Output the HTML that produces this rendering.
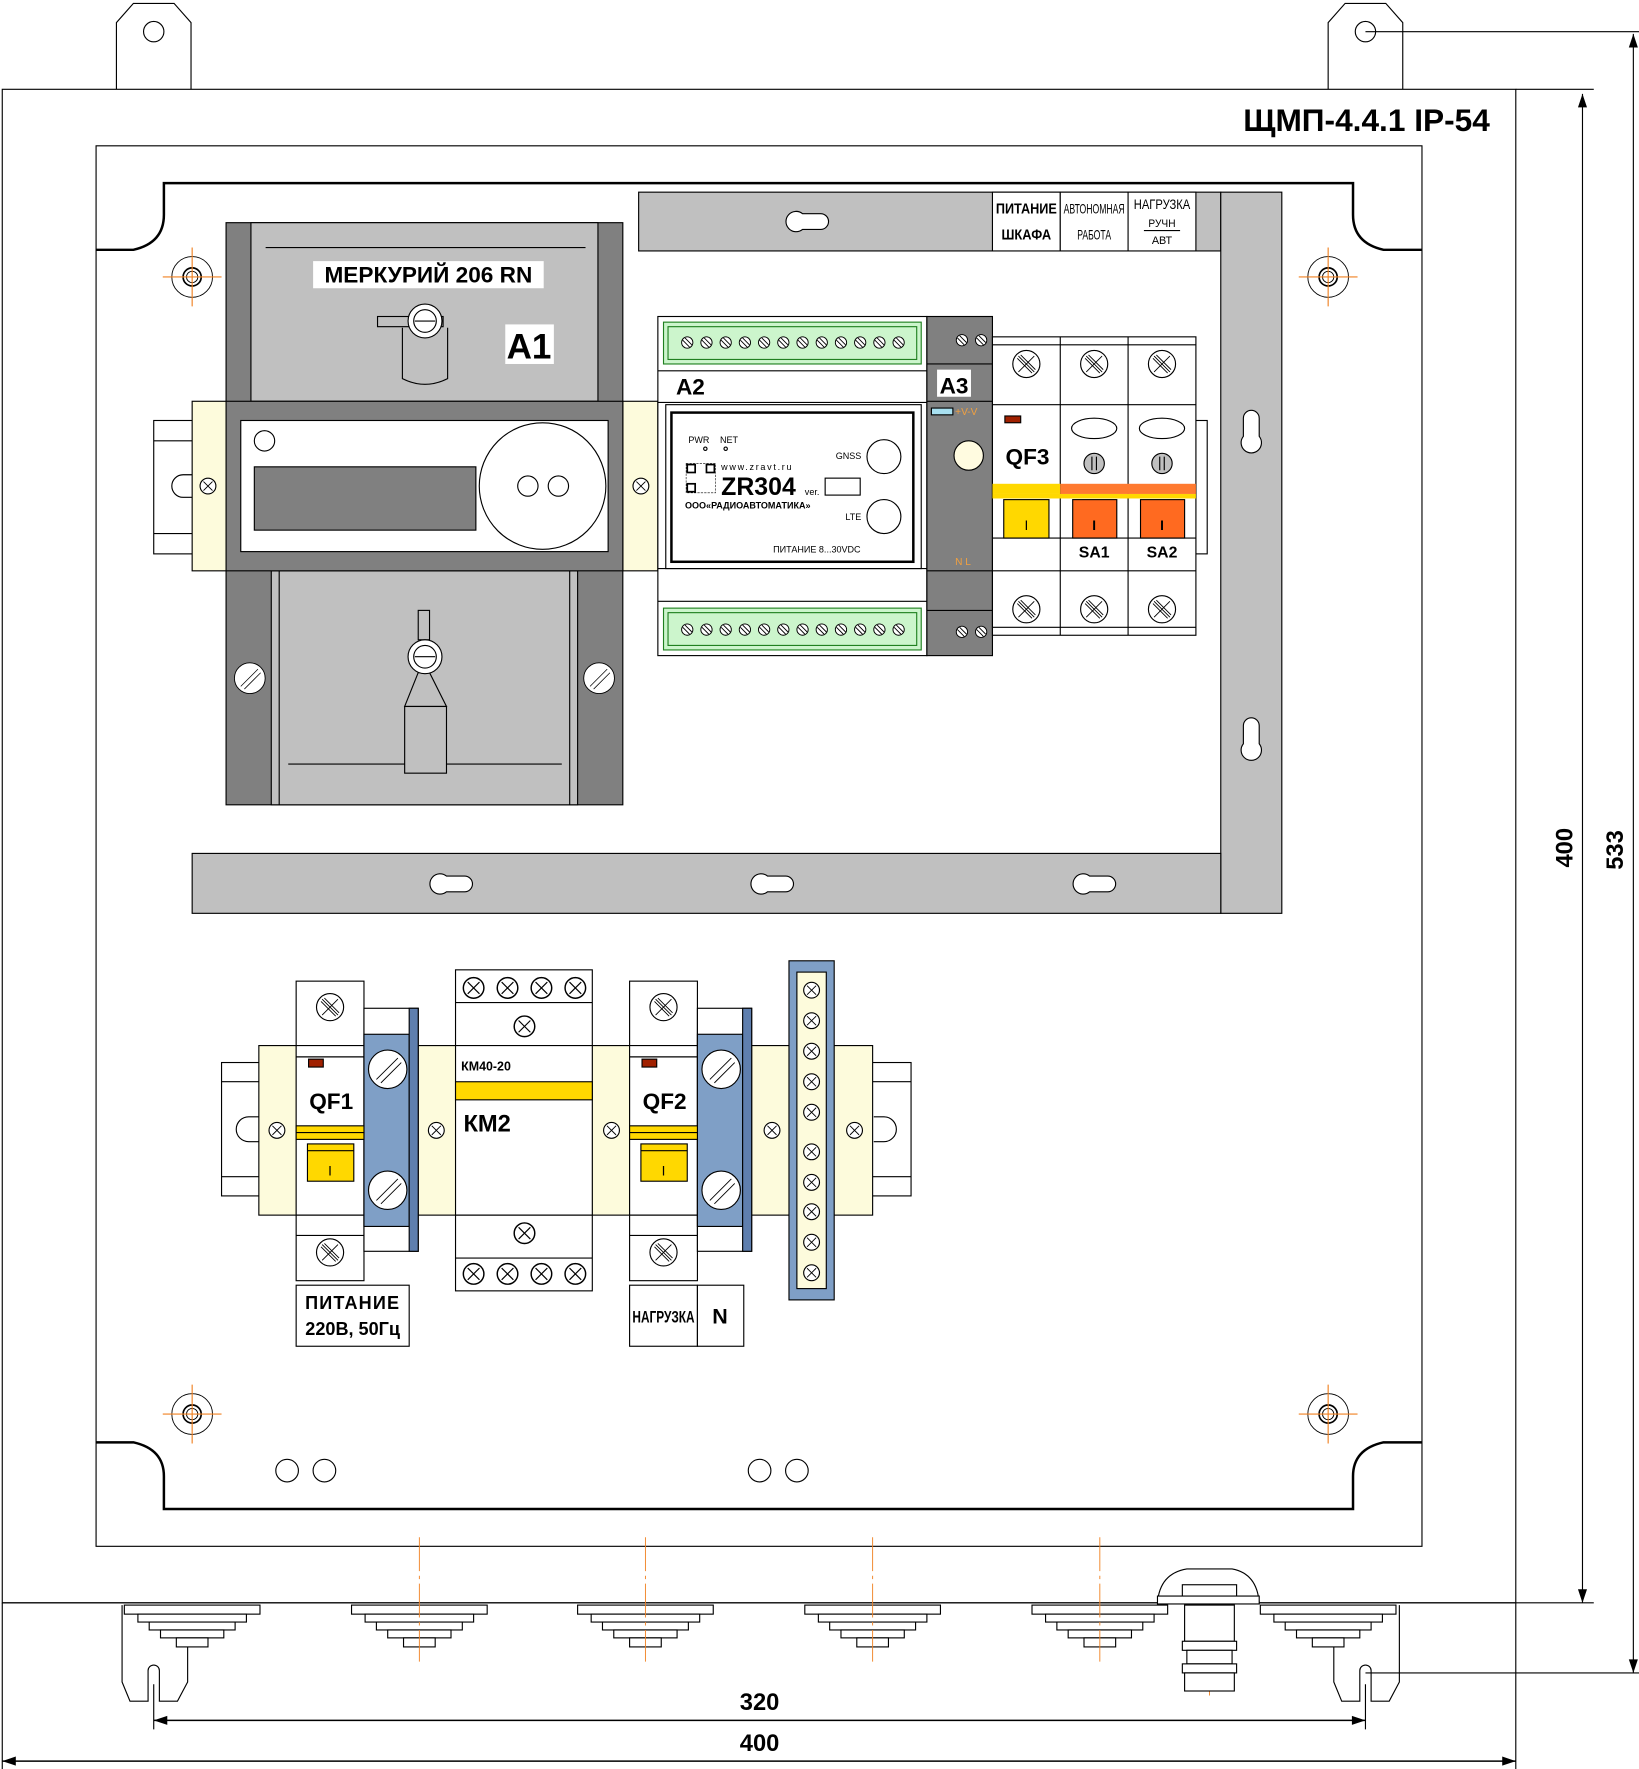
<!DOCTYPE html>
<html><head><meta charset="utf-8"><style>html,body{margin:0;padding:0;background:#fff}svg{display:block}
text{font-family:"Liberation Sans",sans-serif}</style></head><body>
<svg xmlns="http://www.w3.org/2000/svg" width="1639" height="1769" viewBox="0 0 1450 1565">
<defs>
<g id="sc"><circle r="12" fill="#fff" stroke="#000" stroke-width="1"/><path d="M-7,-7L7,7M7,-7L-7,7M-5,-8L8,5M-8,-5L5,8" stroke="#000" stroke-width="0.8" fill="none"/></g>
<g id="ss"><circle r="7" fill="#fff" stroke="#000" stroke-width="1"/><path d="M-4,-4L4,4M4,-4L-4,4" stroke="#000" stroke-width="0.8"/></g>
<g id="sg"><circle r="5" fill="#fff" stroke="#000" stroke-width="0.8"/><path d="M-4,-2L2,4M-2,-4L4,2" stroke="#000" stroke-width="0.8"/></g>
<g id="bs"><circle r="17" fill="#fff" stroke="#000" stroke-width="1"/><path d="M-10,9L9,-10M-6,12L12,-6" stroke="#000" stroke-width="0.8"/></g>
<g id="mt"><circle r="18" fill="none" stroke="#000" stroke-width="0.8"/><circle r="8" fill="none" stroke="#000" stroke-width="1.5"/><circle r="5" fill="none" stroke="#000" stroke-width="0.8"/><path d="M-26,0H26M0,-26V26" stroke="#f08020" stroke-width="1"/></g>
<g id="kh"><path d="M-6,-7 a9,9 0 1 0 0,14 h16 a7,7 0 0 0 0,-14 z" fill="#fff" stroke="#000"/></g>
<g id="khv"><path d="M-7,8 a9,9 0 1 0 14,0 v-16 a7,7 0 0 0 -14,0 z" fill="#fff" stroke="#000"/></g>
<g id="gl" fill="#fff" stroke="#000" stroke-width="1"><rect x="-60" y="0" width="120" height="8"/><rect x="-48" y="8" width="96" height="7"/><rect x="-38" y="15" width="76" height="7"/><rect x="-28" y="22" width="56" height="7"/><rect x="-14" y="29" width="28" height="8"/></g>
</defs>
<g fill="none" stroke="#000" stroke-width="1">
<path d="M103,79V20L118,3H154L169,20V79" fill="#fff"/><circle cx="136" cy="28" r="9"/>
<path d="M1175,79V20L1190,3H1226L1241,20V79" fill="#fff"/><circle cx="1208" cy="28" r="9"/>
<rect x="2" y="79" width="1339" height="1339"/>
<rect x="85" y="129" width="1173" height="1239"/>
<path d="M85,221H118Q145,215 145,190V162H1197V190Q1197,215 1224,221H1258" stroke-width="2.2"/>
<path d="M85,1276H118Q145,1282 145,1306V1335H1197V1306Q1197,1282 1224,1276H1258" stroke-width="2.2"/>
</g>
<text x="1318" y="116" font-size="28" font-weight="bold" text-anchor="end">ЩМП-4.4.1 IP-54</text>
<use href="#mt" x="170" y="245"/><use href="#mt" x="1175" y="245"/><use href="#mt" x="170" y="1251"/><use href="#mt" x="1175" y="1251"/>
<g fill="#c0c0c0" stroke="#000">
<rect x="565" y="170" width="515" height="52"/><rect x="1080" y="170" width="54" height="638"/><rect x="170" y="755" width="910" height="53"/>
</g>
<use href="#kh" x="716" y="196"/><use href="#kh" x="401" y="782"/><use href="#kh" x="685" y="782"/><use href="#kh" x="970" y="782"/>
<use href="#khv" x="1107" y="378"/><use href="#khv" x="1107" y="650"/>
<g fill="#fff" stroke="#000"><rect x="878" y="170" width="60" height="52"/><rect x="938" y="170" width="60" height="52"/><rect x="998" y="170" width="60" height="52"/></g>
<g font-family="Liberation Sans Narrow,Liberation Sans,sans-serif" font-weight="bold" text-anchor="middle" lengthAdjust="spacingAndGlyphs">
<text x="908" y="189" font-size="13" textLength="54" lengthAdjust="spacingAndGlyphs">ПИТАНИЕ</text><text x="908" y="212" font-size="13" textLength="44" lengthAdjust="spacingAndGlyphs">ШКАФА</text>
<text x="968" y="189" font-size="12" font-weight="normal" textLength="54" lengthAdjust="spacingAndGlyphs">АВТОНОМНАЯ</text><text x="968" y="212" font-size="12" font-weight="normal" textLength="30" lengthAdjust="spacingAndGlyphs">РАБОТА</text>
<text x="1028" y="185" font-size="12" font-weight="normal" textLength="50" lengthAdjust="spacingAndGlyphs">НАГРУЗКА</text><text x="1028" y="201" font-size="10" font-weight="normal" textLength="24" lengthAdjust="spacingAndGlyphs">РУЧН</text><text x="1028" y="216" font-size="10" font-weight="normal" textLength="18" lengthAdjust="spacingAndGlyphs">АВТ</text>
</g><path d="M1012,204H1044" stroke="#000"/>
<g stroke="#000">
<rect x="136" y="372" width="40" height="118" fill="#fff"/><path d="M136,390H176M136,472H176M172,420H162a10,10 0 0 0 0,20H172" fill="none"/>
<rect x="170" y="355" width="30" height="150" fill="#fdfbdc"/><rect x="551" y="355" width="31" height="150" fill="#fdfbdc"/>
<rect x="1058" y="372" width="10" height="118" fill="#fff"/>
</g>
<use href="#ss" x="184" y="430"/><use href="#ss" x="567" y="430"/>
<g stroke="#000">
<rect x="200" y="197" width="351" height="515" fill="#808080"/>
<rect x="222" y="197" width="307" height="158" fill="#c0c0c0"/>
<path d="M235,219H518" fill="none"/>
<rect x="240" y="505" width="271" height="207" fill="#c0c0c0"/>
<path d="M247,505V712M504,505V712M255,676H497" fill="none"/>
<rect x="200" y="355" width="351" height="150" fill="#808080"/>
<rect x="213" y="372" width="325" height="116" fill="#fff"/>
<circle cx="234" cy="390" r="9" fill="#fff"/><rect x="225" y="413" width="196" height="56" fill="#808080"/>
<circle cx="480" cy="430" r="56" fill="#fff"/><circle cx="467" cy="430" r="9" fill="#fff"/><circle cx="494" cy="430" r="9" fill="#fff"/>
<path d="M356,290V335Q376,345 396,335V290" fill="#c0c0c0"/>
<rect x="334" y="280" width="58" height="9" fill="#c0c0c0"/>
<circle cx="376" cy="284" r="15" fill="#fff"/><circle cx="376" cy="284" r="10" fill="#fff"/><path d="M367,284H385"/>
<rect x="370" y="540" width="10" height="26" fill="#c0c0c0"/>
<path d="M370,595L358,625H395L380,595Z" fill="#c0c0c0"/><rect x="358" y="625" width="37" height="59" fill="#c0c0c0"/>
<circle cx="376" cy="581" r="15" fill="#fff"/><circle cx="376" cy="581" r="10" fill="#fff"/><path d="M367,581H385"/>
</g>
<use href="#bs" x="221" y="600" transform="translate(221,600) scale(0.8) translate(-221,-600)"/>
<use href="#bs" x="530" y="600" transform="translate(530,600) scale(0.8) translate(-530,-600)"/>
<rect x="277" y="231" width="204" height="24" fill="#fff"/>
<text x="379" y="250" font-size="20" font-weight="bold" text-anchor="middle">МЕРКУРИЙ 206 RN</text>
<rect x="447" y="287" width="43" height="35" fill="#fff"/>
<text x="468" y="317" font-size="31" font-weight="bold" text-anchor="middle">A1</text>
<g stroke="#000">
<rect x="582" y="280" width="238" height="300" fill="#fff"/>
<rect x="587" y="285" width="228" height="37" fill="#ccf5cc" stroke="#208020"/><rect x="591" y="289" width="220" height="29" fill="#ccf5cc" stroke="#208020"/>
<rect x="587" y="538" width="228" height="37" fill="#ccf5cc" stroke="#208020"/><rect x="591" y="542" width="220" height="29" fill="#ccf5cc" stroke="#208020"/>
<path d="M582,328H820M582,356H820M582,503H820M582,532H820" fill="none"/>
<rect x="589" y="358" width="226" height="145" fill="#fff"/>
<rect x="594" y="365" width="214" height="132" fill="#fff" stroke-width="2.2"/>
<circle cx="782" cy="404" r="15" fill="#fff"/><circle cx="782" cy="457" r="15" fill="#fff"/>
<rect x="730" y="423" width="31" height="15" fill="#fff"/>
<circle cx="624" cy="397" r="1.5" fill="#fff"/><circle cx="642" cy="397" r="1.5" fill="#fff"/>
</g>
<g>
<use href="#sg" x="608" y="303"/><use href="#sg" x="625" y="303"/><use href="#sg" x="642" y="303"/><use href="#sg" x="659" y="303"/><use href="#sg" x="676" y="303"/><use href="#sg" x="693" y="303"/><use href="#sg" x="710" y="303"/><use href="#sg" x="727" y="303"/><use href="#sg" x="744" y="303"/><use href="#sg" x="761" y="303"/><use href="#sg" x="778" y="303"/><use href="#sg" x="795" y="303"/>
<use href="#sg" x="608" y="557"/><use href="#sg" x="625" y="557"/><use href="#sg" x="642" y="557"/><use href="#sg" x="659" y="557"/><use href="#sg" x="676" y="557"/><use href="#sg" x="693" y="557"/><use href="#sg" x="710" y="557"/><use href="#sg" x="727" y="557"/><use href="#sg" x="744" y="557"/><use href="#sg" x="761" y="557"/><use href="#sg" x="778" y="557"/><use href="#sg" x="795" y="557"/>
</g>
<text x="598" y="349" font-size="20" font-weight="bold">A2</text>
<text x="609" y="392" font-size="8">PWR</text><text x="637" y="392" font-size="8">NET</text>
<text x="638" y="416" font-size="8" letter-spacing="1.5">www.zravt.ru</text>
<rect x="607" y="410" width="26" height="26" fill="none" stroke="#000" stroke-width="0.5" stroke-dasharray="2,1"/>
<rect x="608" y="411" width="7" height="7" fill="none" stroke="#000" stroke-width="1.5"/><rect x="625" y="411" width="7" height="7" fill="none" stroke="#000" stroke-width="1.5"/><rect x="608" y="428" width="7" height="7" fill="none" stroke="#000" stroke-width="1.5"/>
<text x="638" y="438" font-size="22" font-weight="bold">ZR304</text>
<text x="712" y="438" font-size="8">ver.</text>
<text x="606" y="450" font-size="8" font-weight="bold">ООО«РАДИОАВТОМАТИКА»</text>
<text x="762" y="406" font-size="8" text-anchor="end">GNSS</text><text x="762" y="460" font-size="8" text-anchor="end">LTE</text>
<text x="684" y="489" font-size="8">ПИТАНИЕ 8...30VDC</text>
<g stroke="#000">
<rect x="820" y="280" width="58" height="300" fill="#808080"/>
<path d="M820,322H878M820,355H878M820,505H878M820,540H878" fill="none"/>
<rect x="824" y="361" width="19" height="6" fill="#a8e0f0"/>
<circle cx="857" cy="403" r="13" fill="#fffbe0"/>
</g>
<use href="#sg" x="851" y="301"/><use href="#sg" x="868" y="301"/><use href="#sg" x="851" y="559"/><use href="#sg" x="868" y="559"/>
<rect x="829" y="327" width="30" height="24" fill="#fff"/>
<text x="844" y="348" font-size="20" font-weight="bold" text-anchor="middle">A3</text>
<text x="845" y="367" font-size="9" fill="#f0a040">+V-V</text>
<text x="845" y="500" font-size="9" fill="#f0a040">N  L</text>
<g stroke="#000">
<rect x="878" y="298" width="180" height="264" fill="#fff"/>
<path d="M938,298V562M998,298V562M878,305H1058M878,358H1058M878,505H1058M878,555H1058" fill="none"/>
<rect x="878" y="428" width="60" height="9" fill="#ffd800" stroke="none"/><rect x="938" y="428" width="120" height="9" fill="#ff7a30" stroke="none"/>
<rect x="878" y="437" width="180" height="4" fill="#ffd800" stroke="none"/>
<rect x="888" y="442" width="40" height="34" fill="#ffd800"/><rect x="949" y="442" width="39" height="34" fill="#ff6a20"/><rect x="1009" y="442" width="39" height="34" fill="#ff6a20"/>
<path d="M878,476H1058" fill="none"/>
<ellipse cx="968" cy="379" rx="20" ry="9" fill="#fff"/><ellipse cx="1028" cy="379" rx="20" ry="9" fill="#fff"/>
<circle cx="968" cy="410" r="9" fill="#c0c0c0"/><circle cx="1028" cy="410" r="9" fill="#c0c0c0"/>
<path d="M966,404V416M970,404V416M1026,404V416M1030,404V416" fill="none"/>
<rect x="889" y="368" width="14" height="6" fill="#a02000"/>
</g>
<use href="#sc" x="908" y="322"/><use href="#sc" x="968" y="322"/><use href="#sc" x="1028" y="322"/>
<use href="#sc" x="908" y="539"/><use href="#sc" x="968" y="539"/><use href="#sc" x="1028" y="539"/>
<text x="909" y="411" font-size="20" font-weight="bold" text-anchor="middle">QF3</text>
<g font-size="12" text-anchor="middle"><text x="908" y="469">I</text><text x="968" y="469" font-weight="bold">I</text><text x="1028" y="469" font-weight="bold">I</text></g>
<text x="968" y="493" font-size="14" font-weight="bold" text-anchor="middle">SA1</text><text x="1028" y="493" font-size="14" font-weight="bold" text-anchor="middle">SA2</text>
<g stroke="#000">
<rect x="196" y="940" width="40" height="118" fill="#fff"/><path d="M196,957H236M196,1041H236M229,988H220a10,10 0 0 0 0,22H229" fill="none"/>
<rect x="766" y="940" width="40" height="118" fill="#fff"/><path d="M766,957H806M766,1041H806M773,988H782a10,10 0 0 1 0,22H773" fill="none"/>
<rect x="229" y="925" width="543" height="150" fill="#fdfbdc"/>
<path d="M262,925V1075M370,925V1075M403,925V1075M524,925V1075M557,925V1075M665,925V1075M698,925V1075M738,925V1075" fill="none" stroke-width="0.6"/>
</g>
<use href="#ss" x="245" y="1000"/><use href="#ss" x="386" y="1000"/><use href="#ss" x="541" y="1000"/><use href="#ss" x="683" y="1000"/><use href="#ss" x="756" y="1000"/>
<g id="qf" stroke="#000">
<rect x="262" y="868" width="60" height="265" fill="#fff"/>
<path d="M262,925H322M262,935H322M262,1075H322M262,1093H322" fill="none"/>
<rect x="322" y="892" width="48" height="215" fill="#fff"/>
<rect x="322" y="915" width="40" height="170" fill="#7f9fc6"/><rect x="362" y="892" width="8" height="215" fill="#5f7fae"/>
<rect x="262" y="996" width="60" height="12" fill="#ffd800"/><path d="M262,1002H322"/>
<rect x="272" y="1012" width="41" height="33" fill="#ffd800"/><path d="M272,1018H313"/>
<rect x="273" y="937" width="13" height="7" fill="#a02000"/>
</g>
<use href="#qf" x="295" y="0"/>
<use href="#sc" x="292" y="891"/><use href="#sc" x="292" y="1108"/><use href="#sc" x="587" y="891"/><use href="#sc" x="587" y="1108"/>
<use href="#bs" x="343" y="946"/><use href="#bs" x="343" y="1053"/><use href="#bs" x="638" y="946"/><use href="#bs" x="638" y="1053"/>
<text x="293" y="981" font-size="20" font-weight="bold" text-anchor="middle">QF1</text><text x="588" y="981" font-size="20" font-weight="bold" text-anchor="middle">QF2</text>
<text x="292" y="1040" font-size="12" text-anchor="middle">I</text><text x="587" y="1040" font-size="12" text-anchor="middle">I</text>
<g stroke="#000">
<rect x="403" y="858" width="121" height="284" fill="#fff"/>
<path d="M403,887H524M403,925H524M403,1075H524M403,1113H524" fill="none"/>
<rect x="403" y="957" width="121" height="16" fill="#ffd800"/>
</g>
<use href="#ss" x="419" y="874" transform="translate(419,874) scale(1.3) translate(-419,-874)"/><use href="#ss" x="449" y="874" transform="translate(449,874) scale(1.3) translate(-449,-874)"/><use href="#ss" x="479" y="874" transform="translate(479,874) scale(1.3) translate(-479,-874)"/><use href="#ss" x="509" y="874" transform="translate(509,874) scale(1.3) translate(-509,-874)"/>
<use href="#ss" x="464" y="908" transform="translate(464,908) scale(1.3) translate(-464,-908)"/><use href="#ss" x="464" y="1091" transform="translate(464,1091) scale(1.3) translate(-464,-1091)"/>
<use href="#ss" x="419" y="1127" transform="translate(419,1127) scale(1.3) translate(-419,-1127)"/><use href="#ss" x="449" y="1127" transform="translate(449,1127) scale(1.3) translate(-449,-1127)"/><use href="#ss" x="479" y="1127" transform="translate(479,1127) scale(1.3) translate(-479,-1127)"/><use href="#ss" x="509" y="1127" transform="translate(509,1127) scale(1.3) translate(-509,-1127)"/>
<text x="408" y="947" font-size="11" font-family="Liberation Sans Narrow,Liberation Sans,sans-serif" font-weight="bold">КМ40-20</text>
<text x="410" y="1001" font-size="21" font-weight="bold">КМ2</text>
<rect x="698" y="850" width="40" height="300" fill="#7f9fc6" stroke="#000"/><rect x="705" y="860" width="26" height="280" fill="#fdfbdc" stroke="#000"/>
<use href="#ss" x="718" y="876"/><use href="#ss" x="718" y="903"/><use href="#ss" x="718" y="930"/><use href="#ss" x="718" y="957"/><use href="#ss" x="718" y="984"/><use href="#ss" x="718" y="1019"/><use href="#ss" x="718" y="1046"/><use href="#ss" x="718" y="1072"/><use href="#ss" x="718" y="1099"/><use href="#ss" x="718" y="1126"/>
<g stroke="#000" fill="#fff"><rect x="262" y="1137" width="100" height="54"/><rect x="557" y="1137" width="60" height="54"/><rect x="617" y="1137" width="41" height="54"/></g>
<text x="312" y="1158" font-size="16" font-weight="bold" text-anchor="middle" letter-spacing="1">ПИТАНИЕ</text>
<text x="312" y="1181" font-size="16" font-weight="bold" text-anchor="middle">220В, 50Гц</text>
<text x="587" y="1170" font-size="15" font-weight="bold" text-anchor="middle" font-family="Liberation Sans Narrow,Liberation Sans,sans-serif" textLength="55" lengthAdjust="spacingAndGlyphs">НАГРУЗКА</text>
<text x="637" y="1171" font-size="19" font-weight="bold" text-anchor="middle">N</text>
<g fill="none" stroke="#000"><circle cx="254" cy="1301" r="10"/><circle cx="287" cy="1301" r="10"/><circle cx="672" cy="1301" r="10"/><circle cx="705" cy="1301" r="10"/></g>
<path d="M2,1418H1410" stroke="#000"/>
<g fill="none" stroke="#000">
<path d="M108,1420V1488L115,1505H131V1478a5,5 0 0 1 10,0V1505H157L166,1488V1420"/>
<path d="M1180,1420V1488L1187,1505H1203V1478a5,5 0 0 1 10,0V1505H1229L1238,1488V1420"/>
</g>
<use href="#gl" x="170" y="1420"/><use href="#gl" x="371" y="1420"/><use href="#gl" x="571" y="1420"/><use href="#gl" x="772" y="1420"/><use href="#gl" x="973" y="1420"/><use href="#gl" x="1175" y="1420"/>
<g stroke="#f08020" stroke-width="0.8" stroke-dasharray="30,4,3,4"><path d="M371,1360V1470M571,1360V1470M772,1360V1470M973,1360V1470M1070,1390V1500"/></g>
<g stroke="#000" fill="#fff">
<path d="M1024,1418Q1026,1392 1050,1388H1090Q1112,1392 1114,1418Z"/>
<rect x="1046" y="1402" width="48" height="16"/>
<rect x="1024" y="1412" width="90" height="7" fill="#fff"/>
<rect x="1048" y="1420" width="44" height="32"/><rect x="1046" y="1452" width="48" height="8"/><rect x="1050" y="1460" width="40" height="12"/><rect x="1046" y="1472" width="48" height="8"/><rect x="1048" y="1480" width="44" height="16"/>
</g>
<g fill="none" stroke="#000">
<path d="M1208,28H1450M1341,79H1410M1208,1480H1450"/>
<path d="M1400,83V1418M1445,30V1480"/>
<path d="M136,1490V1530M1208,1490V1530M1341,1418V1565M2,1418V1565"/>
<path d="M136,1522H1208M2,1558H1341" stroke-width="1.3"/>
</g>
<g fill="#000"><path d="M136,1522l12,-4v8z"/><path d="M1208,1522l-12,-4v8z"/><path d="M2,1558l12,-4v8z"/><path d="M1341,1558l-12,-4v8z"/>
<path d="M1400,83l-4,12h8z"/><path d="M1400,1418l-4,-12h8z"/><path d="M1445,30l-4,12h8z"/><path d="M1445,1480l-4,-12h8z"/></g>
<g font-size="21" font-weight="bold" text-anchor="middle">
<text x="672" y="1513">320</text><text x="672" y="1549">400</text>
<text transform="translate(1391,750) rotate(-90)">400</text><text transform="translate(1436,752) rotate(-90)">533</text>
</g>
</svg>
</body></html>
